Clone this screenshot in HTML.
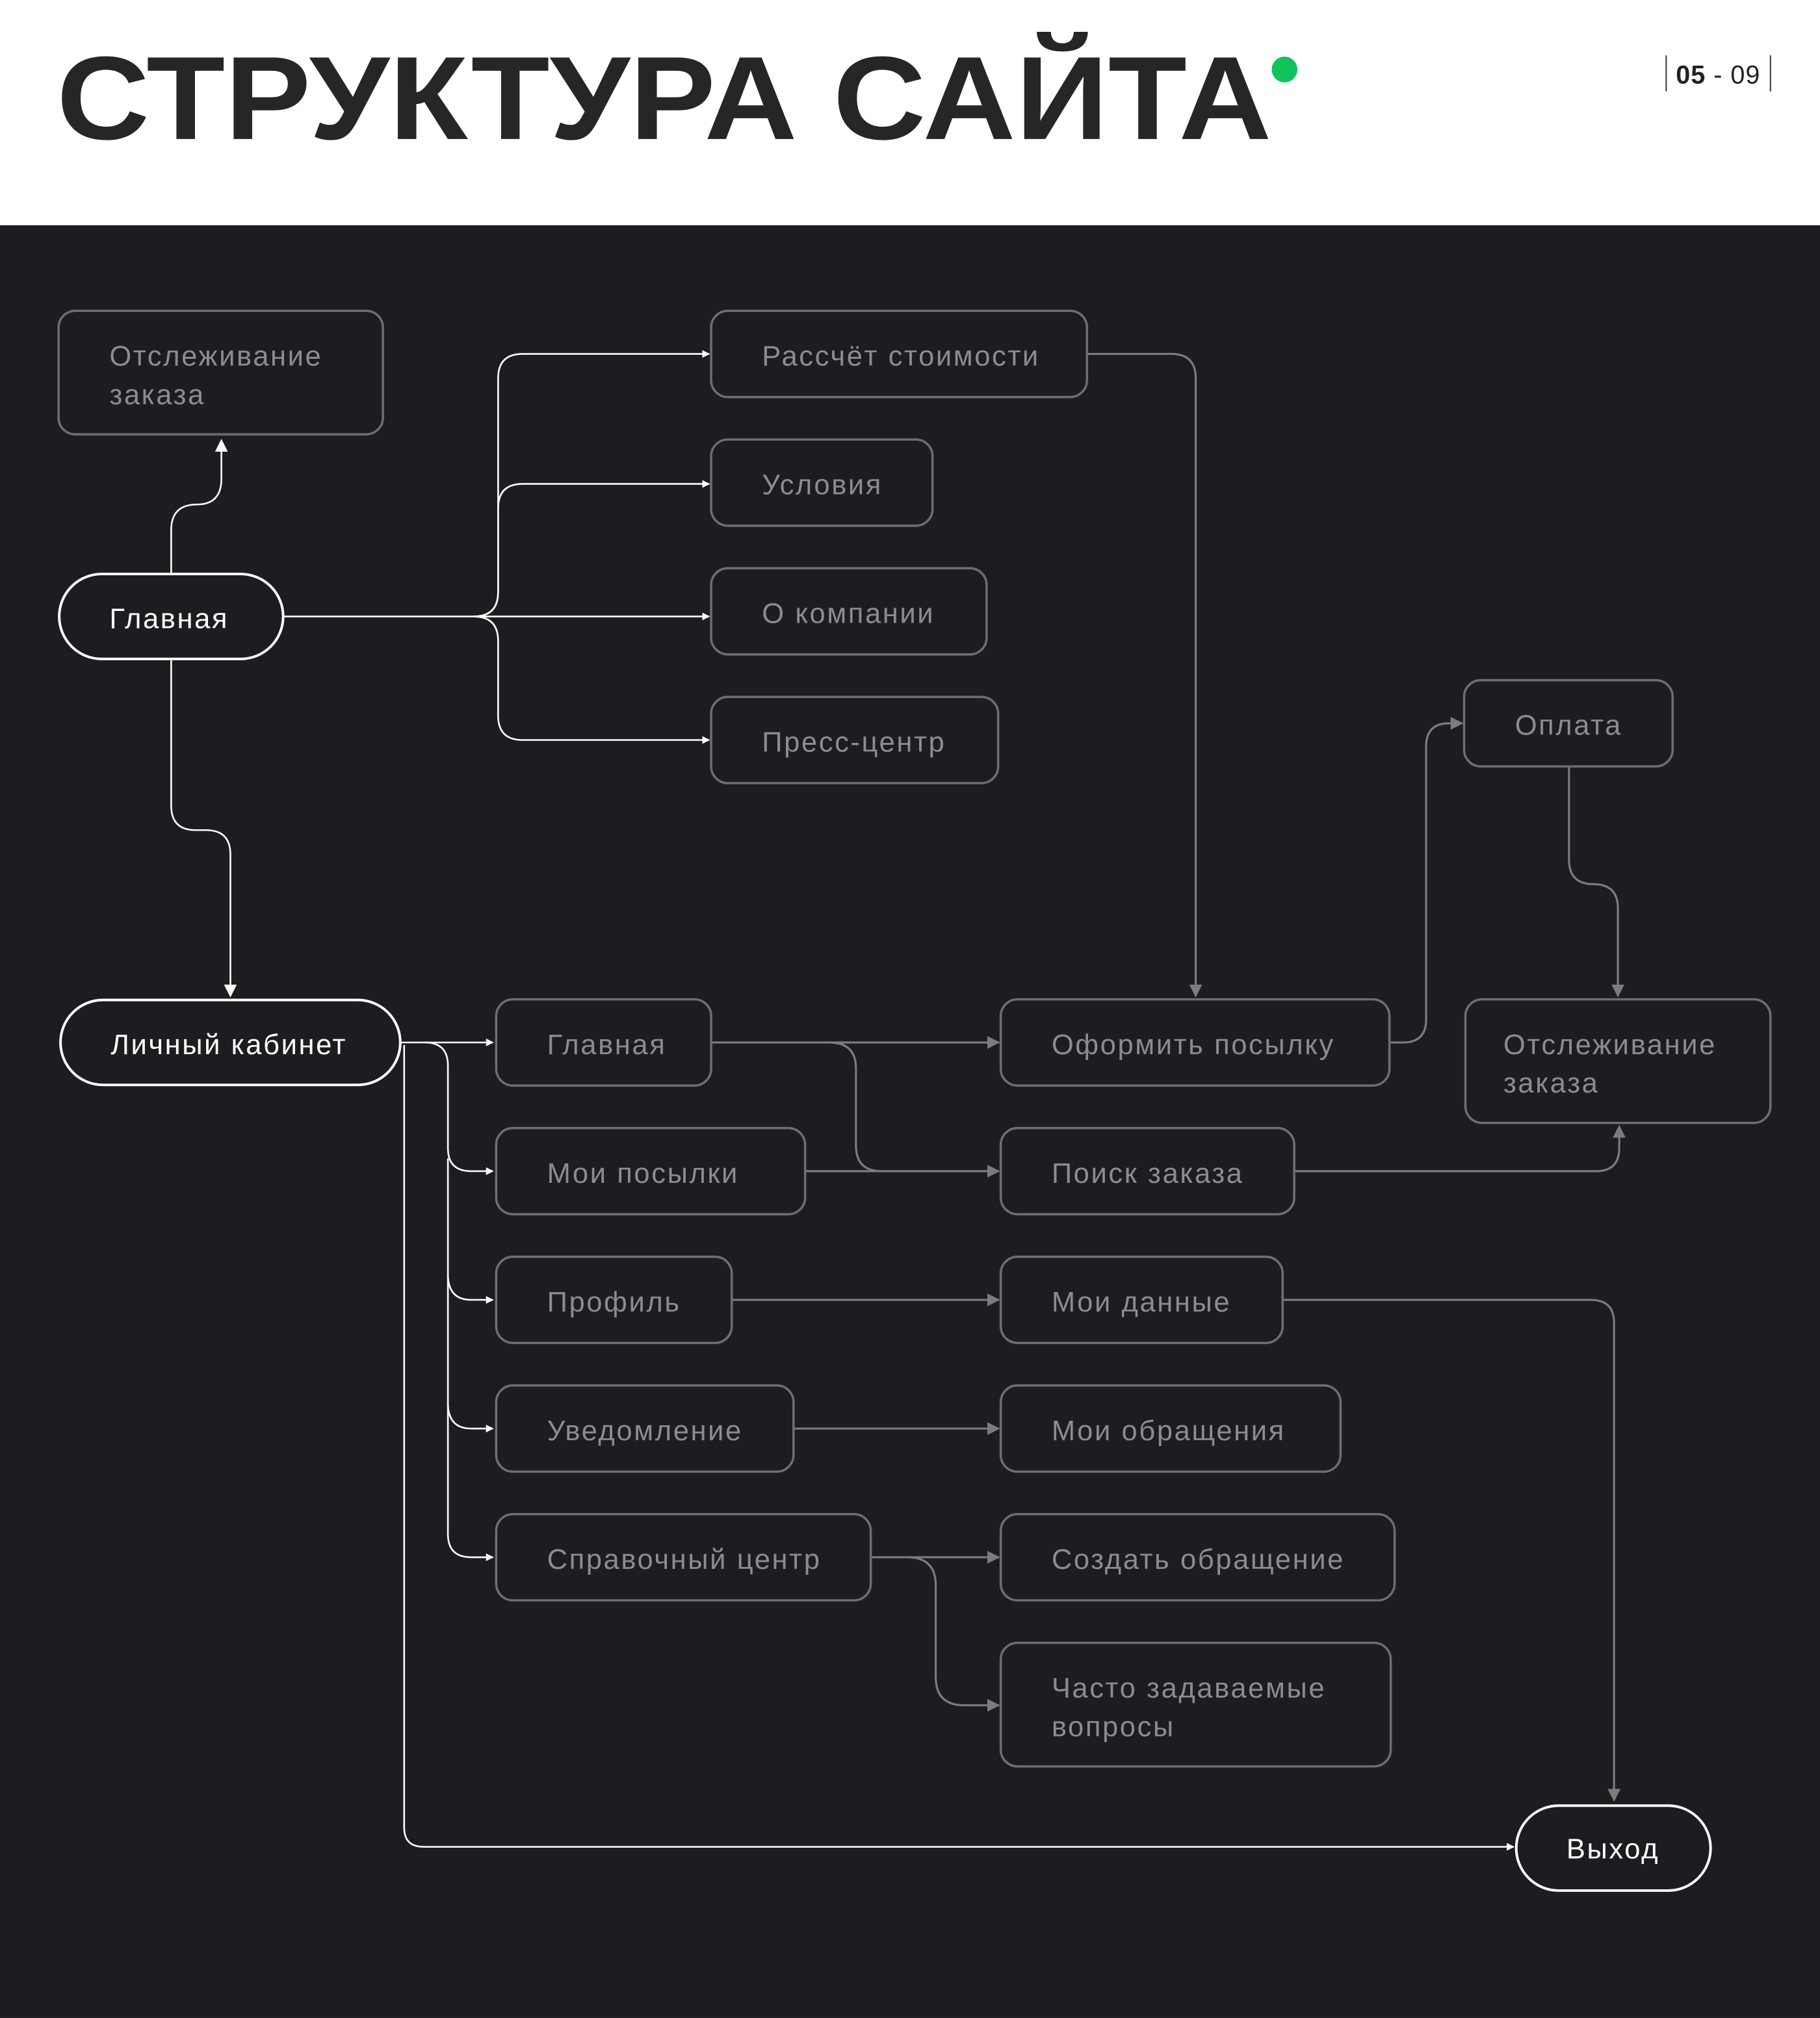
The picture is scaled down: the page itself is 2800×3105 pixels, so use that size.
<!DOCTYPE html>
<html><head><meta charset="utf-8"><style>
html,body{margin:0;padding:0;background:#fff;}
svg{display:block;}
</style></head><body>
<svg width="2800" height="3105" viewBox="0 0 1414 1568" xmlns="http://www.w3.org/2000/svg" font-family="'Liberation Sans', sans-serif">
<defs>
<marker id="aw" viewBox="0 0 10 10" refX="9" refY="5" markerWidth="6" markerHeight="6" orient="auto-start-reverse" markerUnits="userSpaceOnUse"><path d="M0 0 L10 5 L0 10 z" fill="#fff"/></marker>
<marker id="awb" viewBox="0 0 10 10" refX="9" refY="5" markerWidth="10" markerHeight="10" orient="auto-start-reverse" markerUnits="userSpaceOnUse"><path d="M0 0 L10 5 L0 10 z" fill="#fff"/></marker>
<marker id="ag" viewBox="0 0 10 10" refX="9" refY="5" markerWidth="10" markerHeight="10" orient="auto-start-reverse" markerUnits="userSpaceOnUse"><path d="M0 0 L10 5 L0 10 z" fill="#7c7c7f"/></marker>
</defs>
<rect x="0" y="0" width="1414" height="175" fill="#fff"/>
<rect x="0" y="175" width="1414" height="1393" fill="#1d1c21"/>
<text x="44" y="108" font-size="92" font-weight="bold" fill="#262626" textLength="944" lengthAdjust="spacingAndGlyphs">СТРУКТУРА САЙТА</text>
<circle cx="998" cy="54" r="10" fill="#10c35a"/>
<line x1="1294.5" y1="43" x2="1294.5" y2="71" stroke="#333" stroke-width="1"/>
<line x1="1375.5" y1="43" x2="1375.5" y2="71" stroke="#333" stroke-width="1"/>
<text x="1302" y="65" font-size="20" fill="#222" letter-spacing="0.5"><tspan font-weight="bold">05</tspan> - 09</text>

<g fill="none" stroke="#fff" stroke-width="1.3">
<path d="M133 445 V412 Q133 392 153 392 Q172 392 172 372 V342" marker-end="url(#awb)"/>
<path d="M221 479 H551" marker-end="url(#aw)"/>
<path d="M368 479 Q387 479 387 460 V294 Q387 275 406 275 H551" marker-end="url(#aw)"/>
<path d="M368 479 Q387 479 387 460 V395 Q387 376 406 376 H551" marker-end="url(#aw)"/>
<path d="M368 479 Q387 479 387 498 V556 Q387 575 406 575 H551" marker-end="url(#aw)"/>
<path d="M133 513 V626 Q133 645 152 645 H160 Q179 645 179 664 V774" marker-end="url(#awb)"/>
<path d="M312 810 H383" marker-end="url(#aw)"/>
<path d="M330 810 Q348 810 348 828 V892 Q348 910 366 910 H383" marker-end="url(#aw)"/>
<path d="M348 990 Q348 1010 366 1010 H383" marker-end="url(#aw)"/>
<path d="M348 1090 Q348 1110 366 1110 H383" marker-end="url(#aw)"/>
<path d="M348 900 V1192 Q348 1210 366 1210 H383" marker-end="url(#aw)"/>
<path d="M314 812 V1420 Q314 1435 329 1435 H1176" marker-end="url(#aw)"/>
</g>
<g fill="none" stroke="#7c7c7f" stroke-width="1.6">
<path d="M845 275 H910 Q929 275 929 294 V774" marker-end="url(#ag)"/>
<path d="M1219 596 V668 Q1219 687 1238 687 Q1257 687 1257 706 V774" marker-end="url(#ag)"/>
<path d="M1080 810 H1090 Q1108 810 1108 792 V580 Q1108 562 1126 562 H1136" marker-end="url(#ag)"/>
<path d="M553 810 H776" marker-end="url(#ag)"/>
<path d="M644 810 Q665 810 665 830 V890 Q665 910 685 910" />
<path d="M626 910 H776" marker-end="url(#ag)"/>
<path d="M1006 910 H1240 Q1258 910 1258 892 V875" marker-end="url(#ag)"/>
<path d="M569 1010 H776" marker-end="url(#ag)"/>
<path d="M997 1010 H1236 Q1254 1010 1254 1028 V1399" marker-end="url(#ag)"/>
<path d="M617 1110 H776" marker-end="url(#ag)"/>
<path d="M677 1210 H776" marker-end="url(#ag)"/>
<path d="M705 1210 Q727 1210 727 1232 V1303 Q727 1325 749 1325 H776" marker-end="url(#ag)"/>
</g>

<g fill="#1d1c21" stroke="#6e6e72" stroke-width="1.8">
<rect x="45.5" y="241.5" width="252" height="96" rx="13"/>
<rect x="552.5" y="241.5" width="292" height="67" rx="13"/>
<rect x="552.5" y="341.5" width="172" height="67" rx="13"/>
<rect x="552.5" y="441.5" width="214" height="67" rx="13"/>
<rect x="552.5" y="541.5" width="223" height="67" rx="13"/>
<rect x="1137.5" y="528.5" width="162" height="67" rx="13"/>
<rect x="385.5" y="776.5" width="167" height="67" rx="13"/>
<rect x="777.5" y="776.5" width="302" height="67" rx="13"/>
<rect x="1138.5" y="776.5" width="237" height="96" rx="13"/>
<rect x="385.5" y="876.5" width="240" height="67" rx="13"/>
<rect x="777.5" y="876.5" width="228" height="67" rx="13"/>
<rect x="385.5" y="976.5" width="183" height="67" rx="13"/>
<rect x="777.5" y="976.5" width="219" height="67" rx="13"/>
<rect x="385.5" y="1076.5" width="231" height="67" rx="13"/>
<rect x="777.5" y="1076.5" width="264" height="67" rx="13"/>
<rect x="385.5" y="1176.5" width="291" height="67" rx="13"/>
<rect x="777.5" y="1176.5" width="306" height="67" rx="13"/>
<rect x="777.5" y="1276.5" width="303" height="96" rx="13"/>
</g>
<g fill="#1d1c21" stroke="#fff" stroke-width="2">
<rect x="46" y="446" width="174" height="66" rx="33"/>
<rect x="47" y="777" width="264" height="66" rx="33"/>
<rect x="1178" y="1403" width="151" height="66" rx="33"/>
</g>

<g font-size="22" fill="#8c8c90" letter-spacing="1.3">
<text x="85" y="284">Отслеживание</text>
<text x="85" y="314">заказа</text>
<text x="592" y="284">Рассчёт стоимости</text>
<text x="592" y="384">Условия</text>
<text x="592" y="484">О компании</text>
<text x="592" y="584">Пресс-центр</text>
<text x="1177" y="571">Оплата</text>
<text x="425" y="819">Главная</text>
<text x="817" y="819">Оформить посылку</text>
<text x="1168" y="819">Отслеживание</text>
<text x="1168" y="849">заказа</text>
<text x="425" y="919">Мои посылки</text>
<text x="817" y="919">Поиск заказа</text>
<text x="425" y="1019">Профиль</text>
<text x="817" y="1019">Мои данные</text>
<text x="425" y="1119">Уведомление</text>
<text x="817" y="1119">Мои обращения</text>
<text x="425" y="1219">Справочный центр</text>
<text x="817" y="1219">Создать обращение</text>
<text x="817" y="1319">Часто задаваемые</text>
<text x="817" y="1349">вопросы</text>
</g>
<g font-size="22" fill="#fff" letter-spacing="1.3">
<text x="85" y="488">Главная</text>
<text x="86" y="819">Личный кабинет</text>
<text x="1217" y="1444">Выход</text>
</g>
</svg>
</body></html>
